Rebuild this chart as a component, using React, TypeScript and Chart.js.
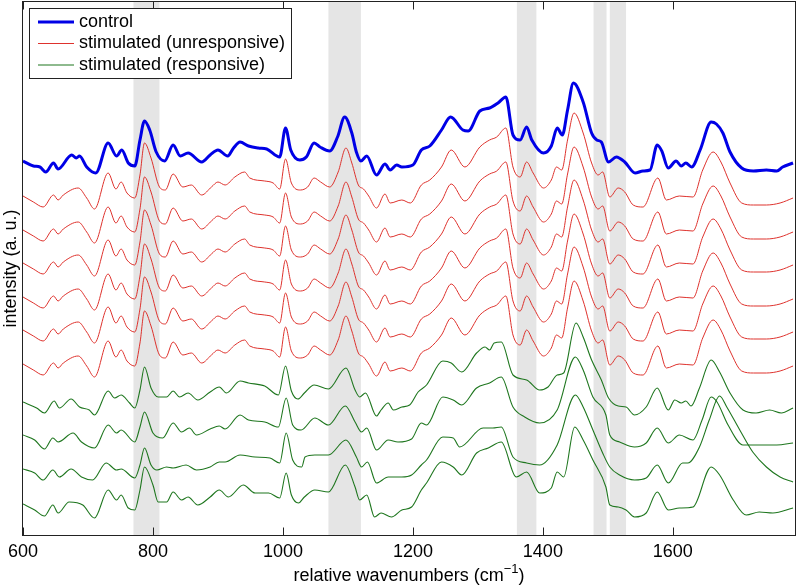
import React, { useEffect, useRef } from 'react';
import { Chart, registerables } from 'chart.js';

Chart.register(...registerables);

// ---- data: [wavenumber (cm^-1), intensity (a.u.)] ----
const controlSpectrum: number[][] = [
  [600,374],[616,369],[626,368],[635,363],[647,372],[654,366],[675,380],[682,377],[687,379],[698,368],
  [712,362],[731,392],[744,379],[752,385],[762,372],[772,369],[780,395],[787,414],[795,405],[805,383],
  [818,374],[831,390],[842,379],[854,382],[875,373],[888,380],[900,385],[915,379],[924,387],[934,393],
  [947,389],[962,387],[975,386],[995,378],[1004,407],[1012,385],[1026,375],[1036,378],[1048,392],[1057,388],
  [1072,384],[1084,398],[1095,418],[1106,402],[1113,383],[1120,374],[1129,379],[1144,360],[1157,371],[1165,365],
  [1175,370],[1183,368],[1200,370],[1213,385],[1226,389],[1244,405],[1258,418],[1277,405],[1285,404],[1303,424],
  [1318,427],[1331,432],[1343,438],[1354,400],[1365,395],[1375,408],[1383,395],[1401,382],[1413,389],[1422,407],
  [1430,400],[1438,425],[1447,452],[1462,433],[1475,402],[1483,395],[1490,393],[1501,373],[1513,378],[1526,373],
  [1542,362],[1554,364],[1565,365],[1576,390],[1583,384],[1593,367],[1605,374],[1613,369],[1620,372],[1629,368],
  [1642,385],[1659,413],[1667,411],[1677,402],[1688,383],[1706,367],[1724,364],[1744,365],[1760,364],[1769,368],
  [1785,372],
];

const unresponsiveSpectrum: number[][] = [
  [600,339],[616,333],[631,328],[647,340],[654,335],[662,340],[685,347],[698,337],[710,326],[731,362],
  [743,346],[751,353],[760,342],[772,337],[780,360],[787,392],[797,377],[810,348],[819,345],[831,361],
  [846,348],[859,350],[875,340],[890,348],[900,353],[911,350],[926,358],[941,363],[949,357],[972,354],
  [985,352],[995,346],[1004,376],[1013,352],[1027,345],[1038,348],[1048,357],[1058,353],[1072,348],[1085,363],
  [1097,387],[1106,372],[1116,350],[1124,346],[1132,339],[1144,327],[1157,341],[1165,332],[1183,335],[1196,332],
  [1213,350],[1226,355],[1244,368],[1259,385],[1280,368],[1303,388],[1318,395],[1329,398],[1343,407],[1354,368],
  [1365,358],[1375,373],[1385,362],[1401,347],[1413,355],[1421,368],[1429,365],[1438,395],[1448,422],[1462,402],
  [1475,372],[1485,360],[1492,363],[1503,338],[1516,347],[1526,343],[1539,330],[1554,328],[1577,357],[1590,335],
  [1610,339],[1631,338],[1646,365],[1662,383],[1674,373],[1688,352],[1706,332],[1724,330],[1744,330],[1765,332],
  [1785,337],
];
// vertical stacking offsets of the six unresponsive spectra
const unresponsiveOffsets = [0, 34, 67, 101, 134, 168];

const responsiveA: number[][] = [
  [600,133],[621,127],[633,122],[648,134],[656,127],[674,136],[687,128],[702,125],[710,120],[731,144],
  [741,137],[751,140],[764,132],[772,127],[780,145],[787,168],[797,147],[808,138],[821,138],[831,144],
  [841,138],[854,142],[869,135],[888,143],[902,148],[913,142],[934,154],[947,152],[972,149],[993,140],
  [1004,169],[1013,144],[1023,136],[1033,142],[1048,150],[1070,146],[1097,167],[1111,145],[1118,138],[1127,142],
  [1144,119],[1151,125],[1162,132],[1170,125],[1183,128],[1195,130],[1208,143],[1221,150],[1246,174],[1259,172],
  [1275,163],[1298,182],[1311,188],[1318,185],[1325,192],[1336,193],[1354,160],[1375,155],[1395,145],[1408,148],
  [1422,160],[1432,162],[1451,212],[1462,198],[1475,175],[1490,155],[1501,137],[1516,129],[1528,128],[1541,120],
  [1559,128],[1576,147],[1593,125],[1603,135],[1613,132],[1620,134],[1628,129],[1641,147],[1659,175],[1672,163],
  [1688,142],[1708,125],[1728,122],[1749,125],[1767,122],[1785,127],
];

const responsiveB: number[][] = [
  [600,100],[618,95],[633,86],[646,97],[654,93],[677,102],[690,93],[710,87],[731,110],[744,102],
  [751,105],[772,93],[780,108],[787,123],[800,102],[815,97],[831,112],[844,103],[856,107],[867,100],
  [888,106],[902,109],[911,106],[934,120],[947,115],[972,113],[993,108],[1005,137],[1015,110],[1028,105],
  [1049,117],[1070,110],[1096,129],[1111,113],[1121,103],[1129,107],[1144,85],[1162,95],[1177,93],[1198,96],
  [1213,112],[1221,110],[1246,138],[1262,135],[1275,130],[1298,147],[1318,152],[1336,158],[1354,128],[1372,118],
  [1395,112],[1422,125],[1450,178],[1462,165],[1477,138],[1497,120],[1503,100],[1518,93],[1541,88],[1559,92],
  [1576,107],[1593,92],[1610,100],[1631,95],[1645,115],[1659,138],[1668,133],[1685,110],[1708,90],[1730,90],
  [1760,90],[1785,92],
];

const responsiveC: number[][] = [
  [600,66],[618,62],[631,55],[646,65],[656,58],[674,66],[690,58],[707,55],[728,72],[744,65],
  [751,66],[772,57],[780,70],[787,87],[797,70],[806,65],[821,68],[831,67],[851,70],[867,65],
  [888,68],[902,73],[911,73],[934,80],[957,78],[980,77],[995,72],[1005,102],[1015,75],[1029,68],
  [1034,78],[1049,80],[1070,80],[1097,95],[1113,78],[1121,68],[1130,73],[1144,52],[1162,58],[1183,58],
  [1198,60],[1213,70],[1221,75],[1246,98],[1262,97],[1272,88],[1308,107],[1323,107],[1336,108],[1354,78],
  [1375,72],[1395,70],[1422,90],[1450,140],[1462,128],[1477,105],[1492,82],[1503,68],[1518,60],[1541,55],
  [1559,57],[1576,70],[1593,52],[1615,72],[1623,72],[1641,88],[1656,115],[1672,139],[1683,128],[1703,105],
  [1723,83],[1744,68],[1765,58],[1785,53],
];

const responsiveD: number[][] = [
  [600,31],[618,25],[633,19],[646,30],[654,22],[671,33],[692,30],[710,17],[731,45],[744,35],
  [751,40],[762,27],[772,25],[780,45],[787,68],[800,50],[808,33],[821,33],[831,43],[844,35],
  [854,38],[869,30],[888,38],[902,45],[916,38],[939,50],[957,42],[978,42],[995,37],[1005,62],
  [1013,40],[1024,32],[1033,38],[1049,45],[1070,43],[1096,70],[1111,48],[1118,35],[1129,40],[1141,18],
  [1151,22],[1167,18],[1183,25],[1198,28],[1213,45],[1221,52],[1244,73],[1262,68],[1275,60],[1298,82],
  [1316,87],[1336,93],[1359,58],[1375,63],[1395,42],[1413,47],[1422,63],[1432,58],[1449,108],[1462,95],
  [1477,75],[1497,48],[1503,30],[1516,28],[1528,25],[1541,18],[1559,22],[1576,43],[1593,25],[1610,27],
  [1631,28],[1659,68],[1672,60],[1693,35],[1713,20],[1733,23],[1754,22],[1785,27],
];

// highlighted wavenumber bands
const bandStarts = [770, 1070, 1360, 1478, 1503];
const bandEnds = [810, 1120, 1390, 1498, 1528];

const xTicks = [600, 800, 1000, 1200, 1400, 1600];
const legendLabels = ['control', 'stimulated (unresponsive)', 'stimulated (responsive)'];
const xTitle = 'relative wavenumbers (cm';
const xTitleSup = '\u22121';
const yTitle = 'intensity (a. u.)';

const X_MIN = 600;
const X_MAX = 1788;
const Y_MIN = 0;
const Y_MAX = 533;

const BLUE = 'rgb(0,0,230)';
const RED = 'rgb(222,50,45)';
const GREEN = 'rgb(30,118,30)';
const FONT = "'Liberation Sans', Arial, Helvetica, sans-serif";

export default function App() {
  const ref = useRef<HTMLCanvasElement>(null);

  useEffect(() => {
    const canvas = ref.current;
    if (!canvas) return;
    const toPts = (arr: number[][], off = 0) => arr.map(([x, y]) => ({ x, y: y - off }));
    const base = {
      pointRadius: 0,
      fill: false,
      cubicInterpolationMode: 'monotone' as const,
    };
    const datasets: any[] = [];
    datasets.push({ ...base, label: legendLabels[0], data: toPts(controlSpectrum), borderColor: BLUE, borderWidth: 3 });
    unresponsiveOffsets.forEach((o) =>
      datasets.push({ ...base, label: legendLabels[1], data: toPts(unresponsiveSpectrum, o), borderColor: RED, borderWidth: 1 })
    );
    [responsiveA, responsiveB, responsiveC, responsiveD].forEach((s) =>
      datasets.push({ ...base, label: legendLabels[2], data: toPts(s), borderColor: GREEN, borderWidth: 1.1 })
    );

    const bandsPlugin = {
      id: 'bands',
      beforeDatasetsDraw(chart: any) {
        const { ctx, chartArea, scales } = chart;
        ctx.save();
        ctx.fillStyle = '#e5e5e5';
        bandStarts.forEach((s, i) => {
          const x0 = scales.x.getPixelForValue(s);
          const x1 = scales.x.getPixelForValue(bandEnds[i]);
          ctx.fillRect(x0, chartArea.top, x1 - x0, chartArea.bottom - chartArea.top);
        });
        ctx.restore();
      },
    };

    const framePlugin = {
      id: 'frame',
      afterDraw(chart: any) {
        const { ctx, chartArea, scales } = chart;
        const l = Math.round(chartArea.left) - 0.5;
        const r = Math.round(chartArea.right) + 0.5;
        const t = Math.round(chartArea.top) - 0.5;
        const b = Math.round(chartArea.bottom) + 0.5;
        ctx.save();
        ctx.strokeStyle = '#222';
        ctx.lineWidth = 1;
        ctx.strokeRect(l, t, r - l, b - t);
        ctx.beginPath();
        xTicks.forEach((v) => {
          const x = Math.round(scales.x.getPixelForValue(v)) + 0.5;
          ctx.moveTo(x, b);
          ctx.lineTo(x, b - 8);
          ctx.moveTo(x, t);
          ctx.lineTo(x, t + 8);
        });
        ctx.stroke();

        // x tick labels
        ctx.fillStyle = '#000';
        ctx.font = `18px ${FONT}`;
        ctx.textAlign = 'center';
        ctx.textBaseline = 'alphabetic';
        xTicks.forEach((v) => {
          ctx.fillText(String(v), scales.x.getPixelForValue(v), 557);
        });

        // x title with superscript
        const mainW = ctx.measureText(xTitle).width;
        ctx.font = `13px ${FONT}`;
        const supW = ctx.measureText(xTitleSup).width;
        ctx.font = `18px ${FONT}`;
        const closeW = ctx.measureText(')').width;
        const total = mainW + supW + closeW;
        let x0 = (chartArea.left + chartArea.right) / 2 - total / 2;
        ctx.textAlign = 'left';
        ctx.fillText(xTitle, x0, 581);
        ctx.font = `13px ${FONT}`;
        ctx.fillText(xTitleSup, x0 + mainW, 573);
        ctx.font = `18px ${FONT}`;
        ctx.fillText(')', x0 + mainW + supW, 581);

        // y-axis title
        ctx.textAlign = 'center';
        ctx.textBaseline = 'middle';
        ctx.translate(11, (chartArea.top + chartArea.bottom) / 2);
        ctx.rotate(-Math.PI / 2);
        ctx.fillText(yTitle, 0, 0);
        ctx.restore();

        // legend
        ctx.save();
        const lx = 29.5, ly = 8.5, lw = 262, lh = 70;
        ctx.fillStyle = '#fff';
        ctx.fillRect(lx, ly, lw, lh);
        ctx.strokeStyle = '#222';
        ctx.lineWidth = 1;
        ctx.strokeRect(lx, ly, lw, lh);
        const rows = [22, 43.5, 65];
        const colors = [BLUE, RED, GREEN];
        const widths = [3, 1, 1.1];
        ctx.font = `18px ${FONT}`;
        ctx.textAlign = 'left';
        ctx.textBaseline = 'middle';
        legendLabels.forEach((lab, i) => {
          ctx.beginPath();
          ctx.strokeStyle = colors[i];
          ctx.lineWidth = widths[i];
          ctx.moveTo(38, rows[i]);
          ctx.lineTo(74, rows[i]);
          ctx.stroke();
          ctx.fillStyle = '#000';
          ctx.fillText(lab, 79, rows[i]);
        });
        ctx.restore();
      },
    };

    const chart = new Chart(canvas, {
      type: 'line',
      data: { datasets },
      options: {
        responsive: false,
        animation: false,
        devicePixelRatio: 1,
        layout: { padding: { left: 23, right: 3, top: 2, bottom: 50 } },
        plugins: { legend: { display: false }, tooltip: { enabled: false } },
        scales: {
          x: { type: 'linear', display: false, min: X_MIN, max: X_MAX },
          y: { type: 'linear', display: false, min: Y_MIN, max: Y_MAX },
        },
      } as any,
      plugins: [bandsPlugin, framePlugin],
    });
    return () => chart.destroy();
  }, []);

  return (
    <div style={{ position: 'absolute', left: 0, top: 0, width: 798, height: 585, background: '#fff' }}>
      <canvas ref={ref} width={798} height={585} style={{ display: 'block' }} />
    </div>
  );
}
